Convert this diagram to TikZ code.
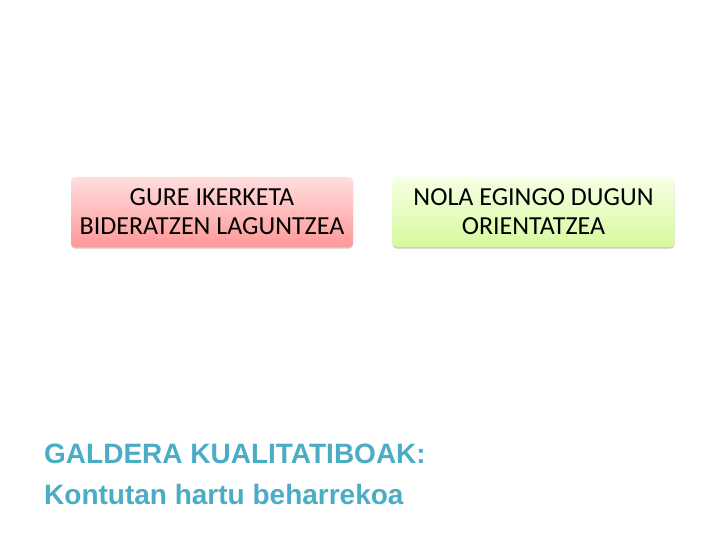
\documentclass[tikz,border=0pt]{standalone}
\usepackage{fontspec}
\setmainfont{Carlito}
\newfontfamily\arialfont{Liberation Sans}
\usetikzlibrary{shadows}
\definecolor{pinktop}{RGB}{255,222,222}
\definecolor{pinkbot}{RGB}{255,152,152}
\definecolor{greentop}{RGB}{246,255,228}
\definecolor{greenbot}{RGB}{214,250,158}
\definecolor{titleblue}{RGB}{75,172,198}
\begin{document}
\begin{tikzpicture}
  [x=1pt,y=-1pt,
   box/.style={rounded corners=4pt,minimum width=282pt,minimum height=70pt,
     align=center,font=\fontsize{26}{29}\selectfont,
     drop shadow={shadow xshift=0pt,shadow yshift=-1.5pt,fill=black!35,opacity=.6}},
   title/.style={anchor=base west,text=titleblue,font=\arialfont\bfseries\fontsize{28}{30}\selectfont,inner sep=0pt}]
  \useasboundingbox (0,0) rectangle (720,540);
  \node[box,top color=pinktop,bottom color=pinkbot] (lag) at (212,212) {GURE IKERKETA\\BIDERATZEN LAGUNTZEA};
  \node[box,top color=greentop,bottom color=greenbot] (ori) at (533.5,212) {NOLA EGINGO DUGUN\\ORIENTATZEA};
  \node[title] (gald) at (44,463) {GALDERA KUALITATIBOAK:};
  \node[title] (kont) at (44,504) {Kontutan hartu beharrekoa};
\end{tikzpicture}
\end{document}
